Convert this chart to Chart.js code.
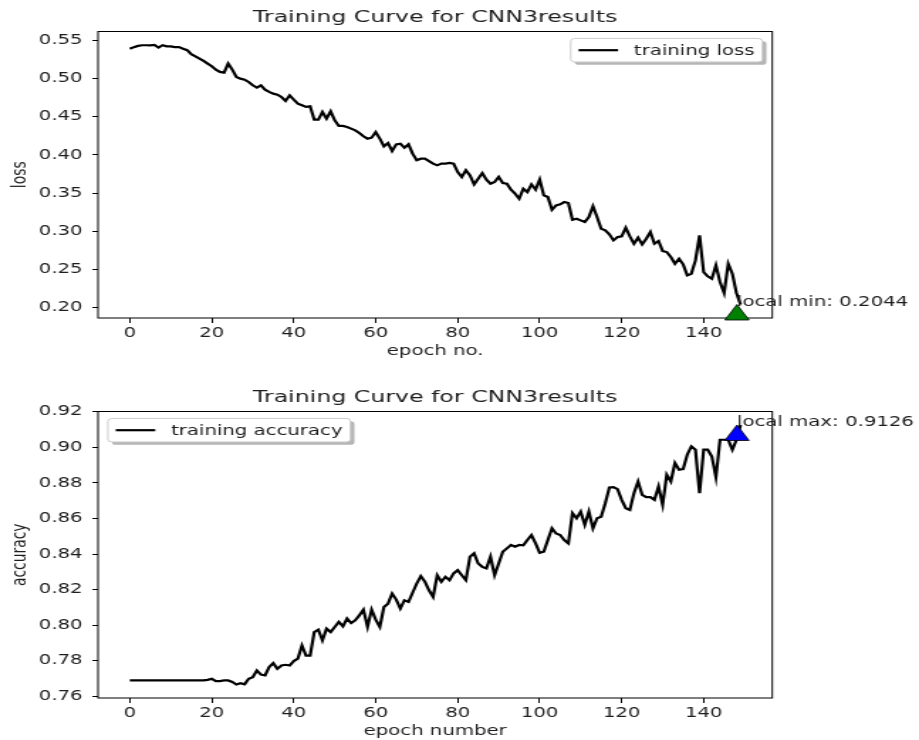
<!DOCTYPE html>
<html>
<head>
<meta charset="utf-8">
<title>Training Curve for CNN3results</title>
<script src="https://cdn.jsdelivr.net/npm/chart.js@4.4.1/dist/chart.umd.min.js"></script>
<style>
  html, body { margin: 0; padding: 0; background: #fff; }
  #figure { position: relative; width: 919px; height: 740px; overflow: hidden; }
  /* the figure is drawn narrow and widened horizontally */
  .panel { position: absolute; left: 0; width: 647px; height: 360px; transform-origin: 0 0; transform: scaleX(1.4204); }
  #lossPanel { top: 0; }
  #accPanel { top: 380px; }
</style>
</head>
<body>
<div id="figure">
  <div class="panel" id="lossPanel"><canvas id="lossChart" width="647" height="360"></canvas></div>
  <div class="panel" id="accPanel"><canvas id="accChart" width="647" height="360"></canvas></div>
</div>
<script>
// per-epoch training loss
const loss = [
  0.539, 0.541, 0.5426, 0.5435, 0.5435, 0.5432, 0.5438, 0.5404, 0.5435, 0.542,
  0.542, 0.541, 0.541, 0.539, 0.537, 0.5317, 0.529, 0.526, 0.523, 0.5195,
  0.516, 0.5116, 0.5086, 0.5077, 0.5195, 0.5116, 0.502, 0.4998, 0.4985, 0.4955,
  0.4911, 0.488, 0.4911, 0.4854, 0.4824, 0.4802, 0.4789, 0.4758, 0.4706, 0.478,
  0.4724, 0.4671, 0.465, 0.4628, 0.4636, 0.4462, 0.4462, 0.4562, 0.4475, 0.457,
  0.4453, 0.4379, 0.4379, 0.4366, 0.4344, 0.4322, 0.4287, 0.4244, 0.4213, 0.4226,
  0.43, 0.4213, 0.4113, 0.4156, 0.4052, 0.4139, 0.4148, 0.4095, 0.4139, 0.4017,
  0.393, 0.3951, 0.3951, 0.392, 0.3886, 0.3864, 0.3886, 0.3886, 0.3895, 0.3886,
  0.3777, 0.3712, 0.3799, 0.3733, 0.3616, 0.369, 0.3764, 0.3677, 0.3624, 0.3646,
  0.3712, 0.3633, 0.3624, 0.3546, 0.3493, 0.3428, 0.3559, 0.3515, 0.3616, 0.3546,
  0.3677, 0.3472, 0.345, 0.3284, 0.3341, 0.3354, 0.3384, 0.3371, 0.3153, 0.3166,
  0.3144, 0.3123, 0.3188, 0.3328, 0.3188, 0.3035, 0.3014, 0.2961, 0.2883, 0.2926,
  0.2935, 0.3049, 0.2935, 0.2839, 0.2918, 0.2831, 0.2905, 0.2992, 0.2839, 0.2874,
  0.2743, 0.273, 0.2665, 0.2577, 0.2643, 0.2569, 0.2425, 0.2447, 0.2621, 0.2948,
  0.2468, 0.2412, 0.2381, 0.2556, 0.2338, 0.2194, 0.2577, 0.2447, 0.2194, 0.2044
];

// per-epoch training accuracy
const accuracy = [
  0.7689, 0.7689, 0.7689, 0.7689, 0.7689, 0.7689, 0.7689, 0.7689, 0.7689, 0.7689,
  0.7689, 0.7689, 0.7689, 0.7689, 0.7689, 0.7689, 0.7689, 0.7689, 0.7689, 0.7692,
  0.7698, 0.7685, 0.7685, 0.7689, 0.7689, 0.768, 0.7666, 0.7673, 0.7667, 0.7698,
  0.7707, 0.7745, 0.7722, 0.7717, 0.7764, 0.7786, 0.7754, 0.7773, 0.7777, 0.7773,
  0.7798, 0.7811, 0.7886, 0.7829, 0.7829, 0.7961, 0.7974, 0.7914, 0.798, 0.7961,
  0.799, 0.8018, 0.7993, 0.8037, 0.8012, 0.8027, 0.8055, 0.8087, 0.799, 0.8087,
  0.8031, 0.799, 0.8102, 0.8121, 0.8178, 0.8144, 0.8093, 0.814, 0.8131, 0.8182,
  0.8234, 0.8276, 0.8244, 0.8196, 0.8159, 0.8281, 0.8244, 0.8272, 0.8253, 0.8291,
  0.8309, 0.8281, 0.8253, 0.8385, 0.8404, 0.8347, 0.8328, 0.8319, 0.8385, 0.8281,
  0.8347, 0.8413, 0.8432, 0.8451, 0.8441, 0.8451, 0.8449, 0.8479, 0.8507, 0.846,
  0.8407, 0.8413, 0.8479, 0.8545, 0.8516, 0.8507, 0.8479, 0.846, 0.863, 0.8601,
  0.8639, 0.8564, 0.8639, 0.8545, 0.8601, 0.861, 0.8686, 0.8774, 0.8776, 0.8765,
  0.8705, 0.8658, 0.8648, 0.8742, 0.8808, 0.8733, 0.872, 0.872, 0.8705, 0.878,
  0.8677, 0.8846, 0.8808, 0.8912, 0.8874, 0.8878, 0.8959, 0.9006, 0.8987, 0.8742,
  0.8987, 0.8987, 0.8949, 0.8832, 0.9043, 0.9043, 0.9043, 0.8987, 0.9043, 0.9126
];

// epoch index of each entry
const epochs = loss.map((_, i) => i);

const xTickStep = 20;
const lossTickStep = 0.05;
const accTickStep = 0.02;

const FONT = "'DejaVu Sans', sans-serif";
const TEXT = '#1e1e1e';
const FS = 13.89;

const CANVAS_W = 647;
const PLOT_LEFT = 69;
const PLOT_RIGHT = 543.7;

Chart.defaults.font.family = FONT;
Chart.defaults.color = TEXT;

// autoscale with a small margin on each side
function padded(values) {
  const lo = Math.min(...values), hi = Math.max(...values);
  const m = (hi - lo) * 0.052;
  return { min: lo - m, max: hi + m };
}

function roundRect(ctx, x, y, w, h, r) {
  ctx.beginPath();
  ctx.moveTo(x + r, y);
  ctx.arcTo(x + w, y, x + w, y + h, r);
  ctx.arcTo(x + w, y + h, x, y + h, r);
  ctx.arcTo(x, y + h, x, y, r);
  ctx.arcTo(x, y, x + w, y, r);
  ctx.closePath();
}

// box on all four sides of the plot area
const axesFrame = {
  id: 'axesFrame',
  afterDatasetsDraw(chart) {
    const { ctx, chartArea: a } = chart;
    ctx.save();
    ctx.strokeStyle = '#000';
    ctx.lineWidth = 1;
    ctx.strokeRect(a.left, a.top, a.right - a.left, a.bottom - a.top);
    ctx.restore();
  }
};

// legend inside the axes, with a drop shadow
const boxLegend = {
  id: 'boxLegend',
  afterDraw(chart, args, opts) {
    const { ctx, chartArea: a } = chart;
    const ds = chart.data.datasets[0];
    ctx.save();
    ctx.font = `${FS}px ${FONT}`;
    const textW = ctx.measureText(ds.label).width;
    const pad = 0.4 * FS, handle = 2 * FS, gap = 0.8 * FS, inset = 0.5 * FS;
    const w = pad + handle + gap + textW + pad;
    const h = 23.5;
    const x = opts.align === 'left' ? a.left + inset : a.right - inset - w;
    const y = a.top + inset;
    ctx.fillStyle = 'rgba(120,120,120,0.55)';
    roundRect(ctx, x + 2.8, y + 2.8, w, h, 2.8);
    ctx.fill();
    ctx.fillStyle = '#fff';
    ctx.strokeStyle = '#cccccc';
    ctx.lineWidth = 1;
    roundRect(ctx, x, y, w, h, 2.8);
    ctx.fill();
    ctx.stroke();
    const cy = y + h / 2;
    ctx.strokeStyle = ds.borderColor;
    ctx.lineWidth = ds.borderWidth;
    ctx.beginPath();
    ctx.moveTo(x + pad, cy);
    ctx.lineTo(x + pad + handle, cy);
    ctx.stroke();
    ctx.fillStyle = TEXT;
    ctx.textAlign = 'left';
    ctx.textBaseline = 'middle';
    ctx.fillText(ds.label, x + pad + handle + gap, cy + 1);
    ctx.restore();
  }
};

// arrow head and label at the best epoch
const extremumNote = {
  id: 'extremumNote',
  afterDraw(chart, args, opts) {
    const { ctx } = chart;
    const data = chart.data.datasets[0].data;
    const best = opts.kind === 'min' ? Math.min(...data) : Math.max(...data);
    const i = data.indexOf(best);
    const px = chart.scales.x.getPixelForValue(chart.data.labels[i]);
    const py = chart.scales.y.getPixelForValue(best);
    ctx.save();
    ctx.beginPath();
    ctx.moveTo(px - 2.5, py);
    ctx.lineTo(px - 2.5 - 8.5, py + 15.5);
    ctx.lineTo(px - 2.5 + 8.5, py + 15.5);
    ctx.closePath();
    ctx.fillStyle = opts.color;
    ctx.fill();
    ctx.strokeStyle = '#000';
    ctx.lineWidth = 0.8;
    ctx.stroke();
    ctx.font = `${FS}px ${FONT}`;
    ctx.fillStyle = TEXT;
    ctx.textAlign = 'left';
    ctx.textBaseline = 'alphabetic';
    ctx.fillText(`${opts.prefix}: ${best.toFixed(4)}`, px - 2.5, py + 1.5);
    ctx.restore();
  }
};

function buildChart(id, values, cfg) {
  const yr = padded(values);
  const xr = padded(epochs);
  return new Chart(document.getElementById(id), {
    type: 'line',
    data: {
      labels: epochs,
      datasets: [{
        label: cfg.seriesLabel,
        data: values,
        borderColor: '#000',
        borderWidth: 2.2,
        pointRadius: 0,
        tension: 0,
        fill: false
      }]
    },
    options: {
      responsive: false,
      animation: false,
      layout: { padding: { left: 0, right: CANVAS_W - PLOT_RIGHT, top: 0, bottom: 0 } },
      plugins: {
        legend: { display: false },
        tooltip: { enabled: false },
        title: {
          display: true,
          text: 'Training Curve for CNN3results',
          fullSize: false,
          color: TEXT,
          font: { size: 16.67, weight: 'normal' },
          padding: { top: 8, bottom: 3.5 }
        },
        boxLegend: { align: cfg.legendAlign },
        extremumNote: { kind: cfg.kind, prefix: cfg.notePrefix, color: cfg.noteColor }
      },
      scales: {
        x: {
          type: 'linear',
          min: xr.min,
          max: xr.max,
          afterFit: s => { s.height = 42; },
          border: { display: false },
          grid: { drawOnChartArea: false, drawTicks: true, tickLength: 5, color: '#000' },
          ticks: { stepSize: xTickStep, includeBounds: false, padding: 2, maxRotation: 0, autoSkip: false, font: { size: FS } },
          title: { display: true, text: cfg.xTitle, font: { size: FS }, padding: { top: 0, bottom: 0 } }
        },
        y: {
          min: yr.min,
          max: yr.max,
          afterFit: s => { s.width = PLOT_LEFT; },
          border: { display: false },
          grid: { drawOnChartArea: false, drawTicks: true, tickLength: 4, color: '#000' },
          ticks: { stepSize: cfg.yStep, includeBounds: false, padding: 6.8, autoSkip: false, font: { size: FS }, callback: v => v.toFixed(2) },
          title: { display: true, text: cfg.yTitle, font: { size: FS }, padding: { top: 6.2, bottom: 0 } }
        }
      }
    },
    plugins: [axesFrame, boxLegend, extremumNote]
  });
}

buildChart('lossChart', loss, {
  seriesLabel: 'training loss',
  xTitle: 'epoch no.',
  yTitle: 'loss',
  yStep: lossTickStep,
  legendAlign: 'right',
  kind: 'min',
  notePrefix: 'local min',
  noteColor: '#008000'
});

buildChart('accChart', accuracy, {
  seriesLabel: 'training accuracy',
  xTitle: 'epoch number',
  yTitle: 'accuracy',
  yStep: accTickStep,
  legendAlign: 'left',
  kind: 'max',
  notePrefix: 'local max',
  noteColor: '#0000ff'
});
</script>
</body>
</html>
